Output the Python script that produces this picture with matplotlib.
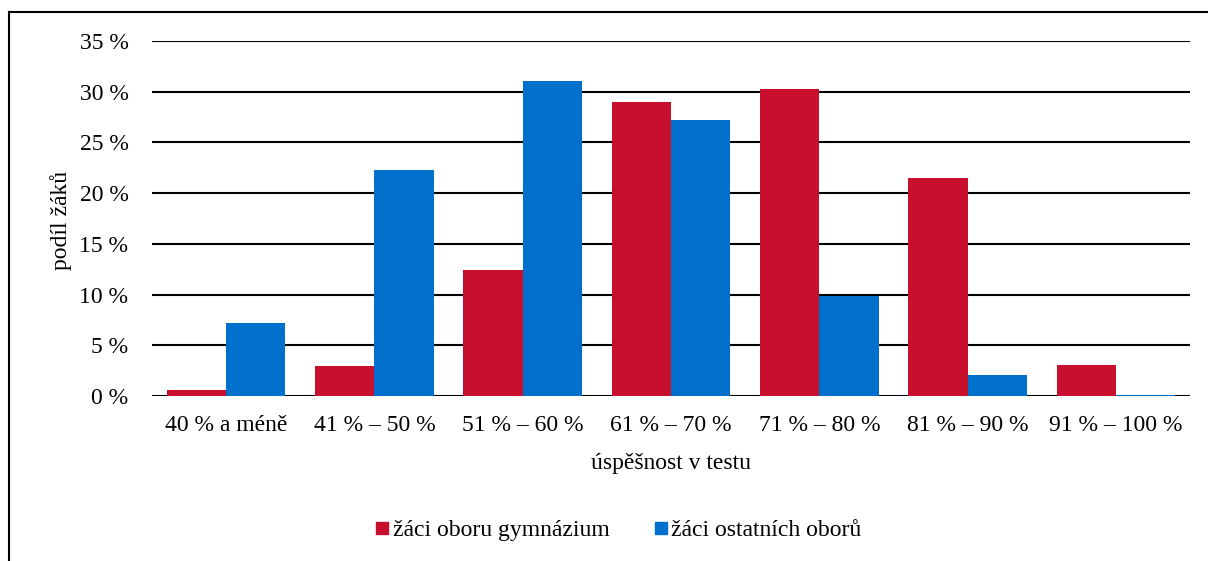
import matplotlib
matplotlib.use("Agg")
import matplotlib.pyplot as plt
import numpy as np
from matplotlib.lines import Line2D

plt.rcParams['font.family'] = ['Liberation Serif', 'DejaVu Serif']

categories = ['40 % a méně', '41 % – 50 %', '51 % – 60 %', '61 % – 70 %',
              '71 % – 80 %', '81 % – 90 %', '91 % – 100 %']
gymnazium = [0.6, 3.0, 12.4, 29.0, 30.3, 21.5, 3.1]
ostatni = [7.2, 22.3, 31.1, 27.2, 9.9, 2.1, 0.1]
series_names = ['žáci oboru gymnázium', 'žáci ostatních oborů']
yticks = [0, 5, 10, 15, 20, 25, 30, 35]

red = '#C80F2E'
blue = '#0070CD'
fs = 17

fig = plt.figure(figsize=(12.08, 5.61), dpi=100)
ax = fig.add_axes([152 / 1208, 1 - 396 / 561, (1190 - 152) / 1208, (396 - 41) / 561])

x = np.arange(len(categories))
w = 0.4
ax.bar(x - w / 2, gymnazium, w, color=red, label=series_names[0], zorder=3)
ax.bar(x + w / 2, ostatni, w, color=blue, label=series_names[1], zorder=3)

ax.set_xlim(-0.5, len(categories) - 0.5)
ax.set_ylim(0, 35)
ax.set_yticks(yticks)
ax.set_yticklabels([f'{t} %' for t in yticks], fontsize=fs)
ax.set_xticks(x)
ax.set_xticklabels(categories, fontsize=fs)
ax.tick_params(axis='both', length=0)
ax.tick_params(axis='y', pad=17)
ax.tick_params(axis='x', pad=14)
ax.grid(axis='y', color='black', linewidth=1.5, zorder=1)
for s in ax.spines.values():
    s.set_visible(False)

fig.text(61 / 1208, 1 - 220 / 561, 'podíl žáků', rotation=90, fontsize=fs,
         ha='center', va='center')
fig.text((152 + 1190) / 2 / 1208, 1 - 464 / 561, 'úspěšnost v testu', fontsize=fs,
         ha='center', va='center')

handles = [Line2D([], [], marker='s', linestyle='none', markersize=8.5, color=red),
           Line2D([], [], marker='s', linestyle='none', markersize=8.5, color=blue)]
fig.legend(handles, series_names, loc='center', bbox_to_anchor=(619 / 1208, 1 - 530 / 561),
           ncol=2, frameon=False, fontsize=fs, handlelength=0.5, handletextpad=0.2,
           columnspacing=1.9)

# chart frame (left and top edges visible)
fig.add_artist(Line2D([9 / 1208, 9 / 1208], [0, 1 - 12 / 561], color='black',
                      linewidth=1.5, transform=fig.transFigure))
fig.add_artist(Line2D([9 / 1208, 1], [1 - 12 / 561, 1 - 12 / 561], color='black',
                      linewidth=1.5, transform=fig.transFigure))

fig.savefig('out.png', dpi=100)
